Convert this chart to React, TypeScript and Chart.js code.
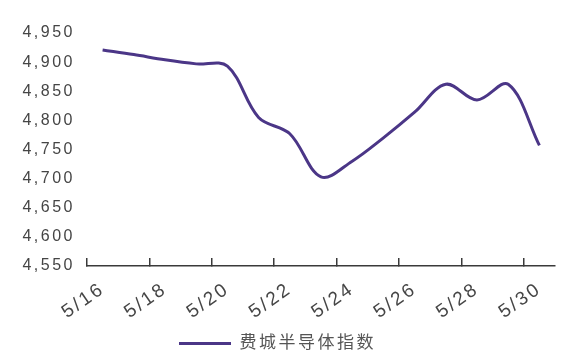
import React, { useEffect, useRef } from "react";
import { Chart, registerables } from "chart.js";

Chart.register(...registerables);

const categories = ["5/16","5/17","5/18","5/19","5/20","5/21","5/22","5/23","5/24","5/25","5/26","5/27","5/28","5/29","5/30"];
const seriesName = "费城半导体指数";
const seriesValues = [4921, 4913, 4904, 4897, 4893, 4805, 4777, 4703, 4730, 4770, 4814, 4862, 4835, 4862, 4757];
const yMin = 4550;
const yMax = 4950;
const yStep = 50;

const FONT = "'Liberation Sans', Arial, 'Noto Sans CJK SC', sans-serif";
const LINE_COLOR = "#4B3687";
const TEXT_COLOR = "#454545";

const spacingPlugin = {
  id: "spacing",
  beforeUpdate(chart: any) { chart.ctx.letterSpacing = "2.5px"; },
  beforeLayout(chart: any) { chart.ctx.letterSpacing = "2.5px"; },
  beforeDraw(chart: any) { chart.ctx.letterSpacing = "2.5px"; },
};

export default function App() {
  const ref = useRef<HTMLCanvasElement | null>(null);
  useEffect(() => {
    if (!ref.current) return;
    const chart = new Chart(ref.current, {
      type: "line",
      data: {
        labels: categories,
        datasets: [
          {
            label: seriesName,
            data: seriesValues,
            borderColor: LINE_COLOR,
            backgroundColor: LINE_COLOR,
            borderWidth: 3,
            pointRadius: 0,
            tension: 0.35,
            fill: false,
          },
        ],
      },
      options: {
        responsive: false,
        animation: false,
        layout: { padding: { top: 33, right: 6, bottom: 1, left: 0 } },
        plugins: {
          tooltip: { enabled: false },
          legend: {
            position: "bottom",
            labels: {
              usePointStyle: true,
              pointStyle: "line",
              pointStyleWidth: 52,
              color: "#555555",
              font: { family: FONT, size: 17 },
              padding: 6,
            },
          },
        },
        scales: {
          x: {
            offset: true,
            grid: {
              offset: true,
              drawOnChartArea: false,
              drawTicks: true,
              tickLength: -8,
              lineWidth: 1.5,
              color: (c: any) => (c.index !== undefined && c.index % 2 === 0 ? "#3a3a3a" : "rgba(0,0,0,0)"),
            },
            border: { display: true, color: "#3a3a3a", width: 1.5 },
            afterFit: (s: any) => { s.height = 63; s.paddingRight = 0; },
            ticks: {
              autoSkip: false,
              maxRotation: 35,
              minRotation: 35,
              padding: 20,
              color: TEXT_COLOR,
              font: { family: FONT, size: 19 },
              callback: (_v: any, i: number) => (i % 2 === 0 ? categories[i] : ""),
            },
          },
          y: {
            min: yMin,
            max: yMax,
            grid: { display: false, drawTicks: false },
            border: { display: false },
            afterFit: (s: any) => { s.width = 87; },
            ticks: {
              stepSize: yStep,
              padding: 12,
              color: TEXT_COLOR,
              font: { family: FONT, size: 16 },
              callback: (v: any) => Number(v).toLocaleString("en-US"),
            },
          },
        },
      },
      plugins: [spacingPlugin],
    });
    return () => chart.destroy();
  }, []);
  return (
    <div style={{ position: "fixed", left: 0, top: 0, width: 561, height: 363, background: "#fff" }}>
      <canvas ref={ref} width={561} height={363} style={{ display: "block" }} />
    </div>
  );
}
